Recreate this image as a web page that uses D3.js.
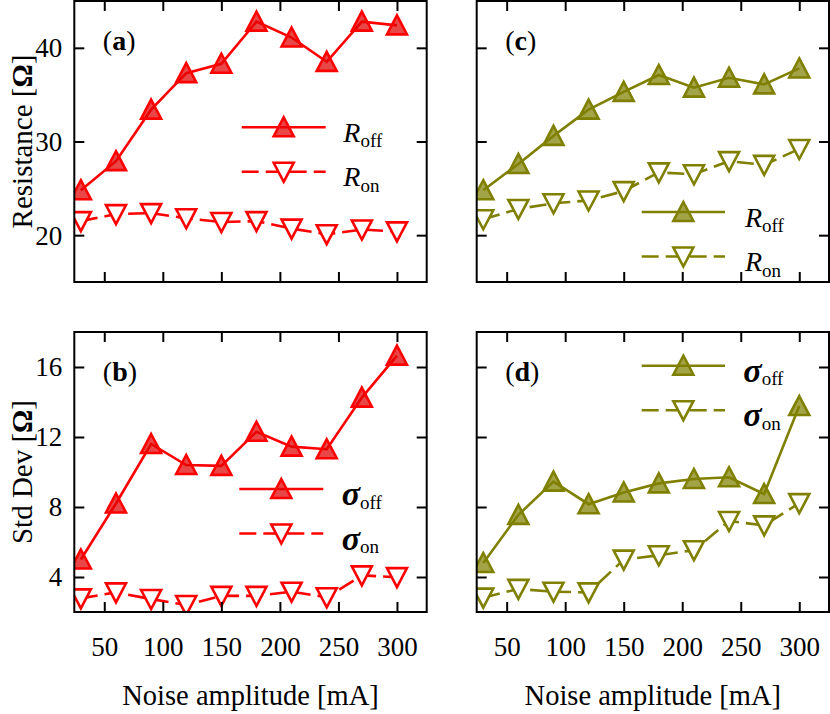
<!DOCTYPE html>
<html>
<head>
<meta charset="utf-8">
<script src="https://cdn.jsdelivr.net/npm/d3@7"></script>
<style>
  html, body { margin: 0; padding: 0; background: #fff; }
  svg { display: block; }
  text { font-family: "Liberation Serif", "Times New Roman", serif; fill: #000; }
</style>
</head>
<body>
<svg id="chart" width="830" height="714"></svg>
<script>
// ---------------- data ----------------
const noise = [30, 60, 90, 120, 150, 180, 210, 240, 270, 300];

// (a) red: resistance
const rOffRed = [24.8, 27.9, 33.4, 37.3, 38.3, 42.8, 41.1, 38.5, 42.8, 42.4];
const rOnRed  = [21.5, 22.25, 22.35, 21.8, 21.4, 21.5, 20.7, 20.1, 20.6, 20.4];
// (c) olive: resistance
const rOffOlive = [24.8, 27.6, 30.6, 33.4, 35.3, 37.1, 35.75, 36.8, 36.1, 37.8];
const rOnOlive  = [21.7, 22.8, 23.4, 23.7, 24.7, 26.7, 26.5, 27.9, 27.5, 29.2];
// (b) red: std dev
const sOffRed = [5.0, 8.2, 11.6, 10.4, 10.35, 12.3, 11.45, 11.3, 14.25, 16.65];
const sOnRed  = [2.78, 3.12, 2.74, 2.4, 2.92, 2.92, 3.16, 2.84, 4.09, 3.99];
// (d) olive: std dev
const sOffOlive = [4.8, 7.55, 9.45, 8.16, 8.83, 9.35, 9.6, 9.7, 8.74, 13.77];
const sOnOlive  = [2.82, 3.32, 3.16, 3.12, 4.99, 5.24, 5.53, 7.2, 6.95, 8.22];

const xTicks = [50, 100, 150, 200, 250, 300];
const yTicksRes = [20, 30, 40];
const yTicksStd = [4, 8, 12, 16];

// ---------------- layout ----------------
const svg = d3.select("#chart");
const colLeft = {x0: 74.3, x1: 426.7};
const colRight = {x0: 476.7, x1: 829};
const rowTop = {y0: 1, y1: 282, dom: [15, 45], ticks: yTicksRes};
const rowBot = {y0: 332, y1: 612, dom: [2, 18], ticks: yTicksStd};
const xDom = [24.4, 325.4];

const RED = "#ff0000", RED_FILL = "#e00000";
const OLIVE = "#808000", OLIVE_FILL = "#808000";

const panels = [
  {letter: "a", col: colLeft, row: rowTop, color: RED, fill: RED_FILL, off: rOffRed, on: rOnRed,
   leg: {x0: 241.7, x1: 325.7, y: 127.3, tx: 343.3}, sym: "R", showY: true, showX: false},
  {letter: "c", col: colRight, row: rowTop, color: OLIVE, fill: OLIVE_FILL, off: rOffOlive, on: rOnOlive,
   leg: {x0: 641.7, x1: 725, y: 212, tx: 745}, sym: "R", showY: false, showX: false},
  {letter: "b", col: colLeft, row: rowBot, color: RED, fill: RED_FILL, off: sOffRed, on: sOnRed,
   leg: {x0: 239.3, x1: 323.3, y: 489, tx: 341.7}, sym: "σ", showY: true, showX: true},
  {letter: "d", col: colRight, row: rowBot, color: OLIVE, fill: OLIVE_FILL, off: sOffOlive, on: sOnOlive,
   leg: {x0: 641.7, x1: 725, y: 365.7, tx: 743.3}, sym: "σ", showY: false, showX: true}
];

const MS = 10; // half marker size
const triUp = `M0,${-MS} L${MS},${MS*0.9} L${-MS},${MS*0.9} Z`;
const triDown = `M0,${MS} L${MS},${-MS*0.9} L${-MS},${-MS*0.9} Z`;
const LW = 2.6;
const DASH = "17,7";
const TICKLEN = 10;

panels.forEach((p, i) => {
  const x = d3.scaleLinear().domain(xDom).range([p.col.x0, p.col.x1]);
  const y = d3.scaleLinear().domain(p.row.dom).range([p.row.y1, p.row.y0]);
  const g = svg.append("g");
  const clipId = "clip" + i;
  svg.append("clipPath").attr("id", clipId).append("rect")
    .attr("x", p.col.x0).attr("y", p.row.y0)
    .attr("width", p.col.x1 - p.col.x0).attr("height", p.row.y1 - p.row.y0);

  const plot = g.append("g").attr("clip-path", `url(#${clipId})`);
  const line = d3.line().x((d, k) => x(noise[k])).y(d => y(d));

  plot.append("path").datum(p.on).attr("d", line)
    .attr("fill", "none").attr("stroke", p.color).attr("stroke-width", LW)
    .attr("stroke-dasharray", DASH);
  plot.append("path").datum(p.off).attr("d", line)
    .attr("fill", "none").attr("stroke", p.color).attr("stroke-width", LW);

  plot.selectAll(".mon").data(p.on).enter().append("path")
    .attr("d", triDown)
    .attr("transform", (d, k) => `translate(${x(noise[k])},${y(d)})`)
    .attr("fill", "#fff").attr("stroke", p.color).attr("stroke-width", LW);
  plot.selectAll(".moff").data(p.off).enter().append("path")
    .attr("d", triUp)
    .attr("transform", (d, k) => `translate(${x(noise[k])},${y(d)})`)
    .attr("fill", p.fill).attr("fill-opacity", 0.72)
    .attr("stroke", p.color).attr("stroke-width", LW);

  const axB = g.append("g").attr("transform", `translate(0,${p.row.y1})`)
    .call(d3.axisBottom(x).tickValues(xTicks).tickSizeInner(-TICKLEN).tickSizeOuter(0)
      .tickFormat(p.showX ? d3.format("d") : ""));
  const axT = g.append("g").attr("transform", `translate(0,${p.row.y0})`)
    .call(d3.axisTop(x).tickValues(xTicks).tickSizeInner(-TICKLEN).tickSizeOuter(0).tickFormat(""));
  const axL = g.append("g").attr("transform", `translate(${p.col.x0},0)`)
    .call(d3.axisLeft(y).tickValues(p.row.ticks).tickSizeInner(-TICKLEN).tickSizeOuter(0)
      .tickFormat(p.showY ? d3.format("d") : ""));
  const axR = g.append("g").attr("transform", `translate(${p.col.x1},0)`)
    .call(d3.axisRight(y).tickValues(p.row.ticks).tickSizeInner(-TICKLEN).tickSizeOuter(0).tickFormat(""));
  [axB, axT, axL, axR].forEach(a => {
    a.attr("font-family", null);
    a.select(".domain").remove();
    a.selectAll(".tick line").attr("stroke", "#000").attr("stroke-width", 2);
    a.selectAll("text").attr("font-size", 27).attr("fill", "#000");
  });
  axB.selectAll("text").attr("dy", null).attr("y", 656 - p.row.y1);
  axL.selectAll("text").attr("x", -12).attr("dy", "0.33em");

  g.append("rect").attr("x", p.col.x0).attr("y", p.row.y0)
    .attr("width", p.col.x1 - p.col.x0).attr("height", p.row.y1 - p.row.y0)
    .attr("fill", "none").attr("stroke", "#000").attr("stroke-width", 2);

  const lt = g.append("text").attr("x", p.col.x0 + 28.5).attr("y", p.row.y0 + 49)
    .attr("font-size", 28);
  lt.append("tspan").text("(");
  lt.append("tspan").attr("font-weight", "bold").text(p.letter);
  lt.append("tspan").text(")");

  const L = p.leg;
  const rows = [{y: L.y, dash: null, path: triUp, fill: p.fill, op: 0.72, sub: "off"},
                {y: L.y + 44.5, dash: DASH, path: triDown, fill: "#fff", op: 1, sub: "on"}];
  rows.forEach(r => {
    g.append("line").attr("x1", L.x0).attr("x2", L.x1).attr("y1", r.y).attr("y2", r.y)
      .attr("stroke", p.color).attr("stroke-width", LW)
      .attr("stroke-dasharray", r.dash);
    g.append("path").attr("d", r.path)
      .attr("transform", `translate(${(L.x0 + L.x1) / 2},${r.y})`)
      .attr("fill", r.fill).attr("fill-opacity", r.op)
      .attr("stroke", p.color).attr("stroke-width", LW);
    const t = g.append("text").attr("x", L.tx);
    if (p.sym === "R") {
      t.attr("y", r.y + 14.5);
      t.append("tspan").attr("font-style", "italic").attr("font-size", 28).text("R");
      t.append("tspan").attr("font-size", 19).attr("dy", 5.5).text(r.sub);
    } else {
      t.attr("y", r.y + 16);
      t.append("tspan").attr("font-style", "italic").attr("font-weight", "bold")
        .attr("font-size", 34).text("σ");
      t.append("tspan").attr("font-size", 19).attr("dy", 3.5).text(r.sub);
    }
  });
});

function yLabel(txt, cy) {
  const t = svg.append("text").attr("transform", `translate(32,${cy}) rotate(-90)`)
    .attr("text-anchor", "middle").attr("font-size", 29);
  t.append("tspan").text(txt + " [");
  t.append("tspan").attr("font-weight", "bold").text("Ω");
  t.append("tspan").text("]");
}
yLabel("Resistance", (rowTop.y0 + rowTop.y1) / 2);
yLabel("Std Dev", (rowBot.y0 + rowBot.y1) / 2);

[colLeft, colRight].forEach(c => {
  svg.append("text").attr("x", (c.x0 + c.x1) / 2).attr("y", 705)
    .attr("text-anchor", "middle").attr("font-size", 28.5)
    .text("Noise amplitude [mA]");
});
</script>
</body>
</html>
